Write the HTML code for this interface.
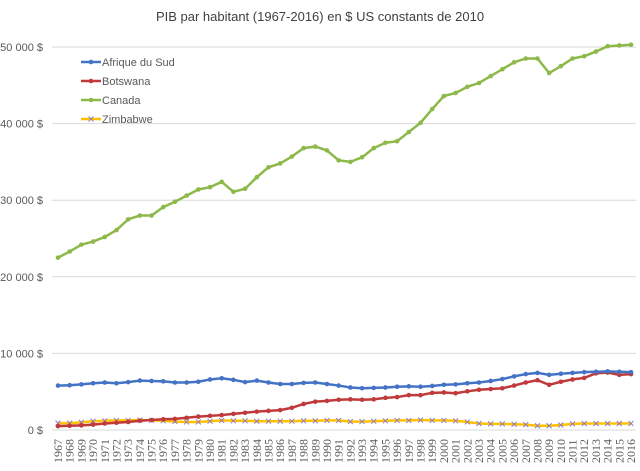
<!DOCTYPE html>
<html><head><meta charset="utf-8"><style>
body{margin:0;background:#fff;font-family:"Liberation Sans",sans-serif;}
svg text{font-family:"Liberation Sans",sans-serif;fill:#595959;}
svg text.yr{font-family:"Liberation Serif",serif;}
</style></head><body>
<svg id="c" width="640" height="466">
<text x="320" y="21" text-anchor="middle" font-size="13" fill="#404040" style="fill:#404040">PIB par habitant (1967-2016) en $ US constants de 2010</text>
</svg>
<script>
const years=[];for(let y=1967;y<=2016;y++)years.push(y);
const yTicks=[0,10000,20000,30000,40000,50000];
const canada=[22500,23300,24200,24600,25200,26100,27500,28000,28000,29100,29800,30600,31400,31700,32400,31100,31500,33000,34300,34800,35700,36800,37000,36500,35200,35000,35600,36800,37500,37700,38900,40100,41900,43600,44000,44800,45300,46200,47100,48000,48500,48500,46600,47500,48500,48800,49400,50100,50200,50300];
const afriqueSud=[5800,5850,5950,6100,6200,6100,6250,6450,6400,6350,6200,6200,6300,6600,6750,6550,6250,6450,6200,6000,6000,6150,6200,6000,5800,5550,5450,5500,5550,5650,5700,5650,5750,5900,5950,6100,6200,6400,6650,7000,7300,7450,7200,7350,7450,7550,7600,7650,7600,7550];
const botswana=[500,550,600,700,850,950,1050,1200,1300,1400,1450,1600,1750,1850,1950,2100,2250,2400,2500,2600,2900,3400,3700,3800,3950,4000,3950,4000,4200,4300,4550,4550,4850,4900,4800,5050,5250,5350,5450,5800,6200,6500,5900,6300,6600,6800,7400,7500,7200,7300];
const zimbabwe=[900,900,1000,1150,1200,1250,1250,1300,1250,1200,1100,1050,1050,1150,1250,1200,1200,1150,1150,1150,1150,1200,1200,1250,1250,1100,1100,1150,1200,1250,1250,1300,1250,1250,1200,1050,850,800,800,750,700,550,550,650,800,850,850,850,850,850];
const seriesNames=["Afrique du Sud","Botswana","Canada","Zimbabwe"];
const svg=document.getElementById('c');const NS='http://www.w3.org/2000/svg';
const X0=58,X1=631,Y0=430,Y1=47,VMAX=50000;
const xs=i=>X0+(X1-X0)*i/(years.length-1);
const ys=v=>Y0-(Y0-Y1)*v/VMAX;
function el(t,a,p){const e=document.createElementNS(NS,t);for(const k in a)e.setAttribute(k,a[k]);(p||svg).appendChild(e);return e;}
yTicks.forEach(t=>{
 const l=el('line',{x1:52,x2:636,y1:ys(t),y2:ys(t),stroke:'#d9d9d9','stroke-width':1});
 
 
 const tx=el('text',{x:43,y:ys(t)+4,'text-anchor':'end','font-size':11});
 tx.textContent=(t===0?'0':(t/1000)+' 000')+' $';
 
 
});
years.forEach((y,i)=>{
 const tx=el('text',{transform:`translate(${xs(i)+4},463) rotate(-90)`,'font-size':12,'class':'yr'});
 tx.textContent=y;
 
 
});
const data=[afriqueSud,botswana,canada,zimbabwe];
const cols=['#4472c4','#c0393b','#8db84a','#ffc000'];
const order=[3,1,0,2];
order.forEach(s=>{
 const g=el('g',{});
 
 
 el('polyline',{points:data[s].map((v,i)=>xs(i)+','+ys(v)).join(' '),fill:'none',stroke:cols[s],'stroke-width':2.5},g);
 data[s].forEach((v,i)=>{
  let m;
  if(s===3){m=el('path',{d:`M${xs(i)-2.5},${ys(v)-2.5}l5,5m0,-5l-5,5`,stroke:'#8e7cc3','stroke-width':1},g);}
  else m=el('circle',{cx:xs(i),cy:ys(v),r:2.3,fill:cols[s]},g);
  
  
 });
});
seriesNames.forEach((n,s)=>{
 const y=62+s*19;
 const g=el('g',{});
 
 
 el('line',{x1:81,x2:101,y1:y,y2:y,stroke:cols[s],'stroke-width':2.5},g);
 if(s===3)el('path',{d:`M88.5,${y-2.5}l5,5m0,-5l-5,5`,stroke:'#8e7cc3','stroke-width':1},g);
 else el('circle',{cx:91,cy:y,r:2.3,fill:cols[s]},g);
 const t=el('text',{x:102,y:y+4,'font-size':11,fill:'#404040'},g);t.textContent=n;
});
</script>
</body></html>
